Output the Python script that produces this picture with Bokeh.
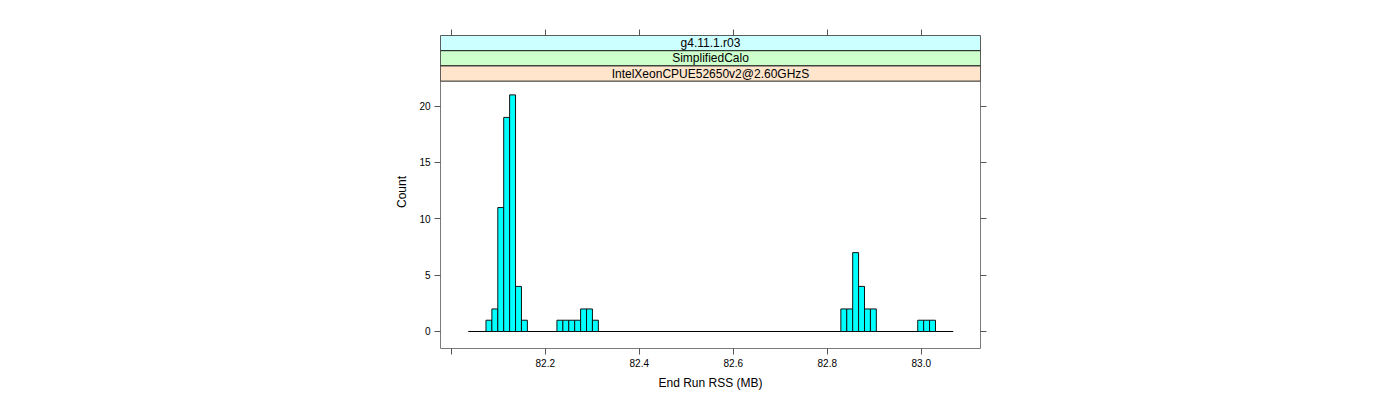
from bokeh.plotting import figure
from bokeh.models import Range1d, LinearAxis, FixedTicker, ColumnDataSource
from bokeh.core.properties import value
from bokeh.embed import file_html
from bokeh.resources import INLINE

# ---- data ----
bin_start = 82.036
bin_width = 0.012585
counts = ([0, 0, 0, 1, 2, 11, 19, 21, 4, 1,
           0, 0, 0, 0, 0,
           1, 1, 1, 1, 2, 2, 1]
          + [0] * 41
          + [2, 2, 7, 4, 2, 2]
          + [0] * 7
          + [1, 1, 1]
          + [0, 0, 0])

x_ticks = [82.0, 82.2, 82.4, 82.6, 82.8, 83.0]
x_tick_labels = ["", "82.2", "82.4", "82.6", "82.8", "83.0"]
y_ticks = [0, 5, 10, 15, 20]
y_tick_labels = ["0", "5", "10", "15", "20"]

strip_labels = ["g4.11.1.r03", "SimplifiedCalo", "IntelXeonCPUE52650v2@2.60GHzS"]
strip_colors = ["#CCFFFF", "#CCFFCC", "#FFE5CC"]

x_title = "End Run RSS (MB)"
y_title = "Count"

# ---- layout ----
FONT = "Liberation Sans"
x_lo, x_hi = 81.977, 83.126
y_lo = -1.51
panel_top = 22.22
strip_h = 1.35
y_hi = panel_top + 3 * strip_h

p = figure(width=1384, height=392,
           x_range=Range1d(x_lo, x_hi), y_range=Range1d(y_lo, y_hi),
           output_backend="svg", toolbar_location=None,
           x_axis_location=None, y_axis_location=None,
           min_border_left=440, min_border_right=404,
           min_border_top=35, min_border_bottom=44)
p.grid.visible = False
p.background_fill_color = "white"
p.border_fill_color = "white"
p.outline_line_color = "#7a7a7a"
p.outline_line_width = 1

# histogram bars
lefts, rights, tops = [], [], []
for i, c in enumerate(counts):
    if c > 0:
        lefts.append(bin_start + i * bin_width)
        rights.append(bin_start + (i + 1) * bin_width)
        tops.append(c)
src = ColumnDataSource(dict(left=lefts, right=rights, top=tops, bottom=[0] * len(tops)))
edge_lo = bin_start
edge_hi = bin_start + len(counts) * bin_width
p.line([edge_lo, edge_hi], [0, 0], line_color="black", line_width=1)
p.quad(left="left", right="right", top="top", bottom="bottom", source=src,
       fill_color="#00FFFF", line_color="#111111", line_width=1)

# strips (top to bottom)
n = len(strip_labels)
for k, (lab, col) in enumerate(zip(strip_labels, strip_colors)):
    top = panel_top + (n - k) * strip_h
    bot = top - strip_h
    p.quad(left=[x_lo], right=[x_hi], top=[top], bottom=[bot],
           fill_color=col, line_color="#222222", line_width=1)
    p.text(x=[(x_lo + x_hi) / 2], y=[(top + bot) / 2], text=[lab],
           text_align="center", text_baseline="middle",
           text_font=value(FONT), text_font_size="12px", text_color="black")

tick_col = "#555555"

def style_axis(ax, labels=True):
    ax.axis_line_color = None
    ax.major_tick_in = 0
    ax.major_tick_out = 6
    ax.major_tick_line_color = tick_col
    ax.minor_tick_line_color = None
    ax.major_label_text_font = FONT
    ax.major_label_text_font_size = "10px" if labels else "0px"
    ax.major_label_text_color = "black"
    ax.major_label_standoff = 4
    ax.axis_label_text_font = FONT
    ax.axis_label_text_font_size = "12px"
    ax.axis_label_text_font_style = "normal"
    ax.axis_label_text_color = "black"

bx = LinearAxis(ticker=FixedTicker(ticks=x_ticks),
                major_label_overrides={t: l for t, l in zip(x_ticks, x_tick_labels)},
                axis_label=x_title)
style_axis(bx)
bx.axis_label_standoff = 6
p.add_layout(bx, "below")

ax_top = LinearAxis(ticker=FixedTicker(ticks=x_ticks),
                    major_label_overrides={t: "" for t in x_ticks})
style_axis(ax_top, labels=False)
p.add_layout(ax_top, "above")

ly = LinearAxis(ticker=FixedTicker(ticks=y_ticks),
                major_label_overrides={t: l for t, l in zip(y_ticks, y_tick_labels)},
                axis_label=y_title)
style_axis(ly)
ly.axis_label_standoff = 7
p.add_layout(ly, "left")

ry = LinearAxis(ticker=FixedTicker(ticks=y_ticks),
                major_label_overrides={t: "" for t in y_ticks})
style_axis(ry, labels=False)
p.add_layout(ry, "right")

open("out.html", "w").write(file_html(p, INLINE))
